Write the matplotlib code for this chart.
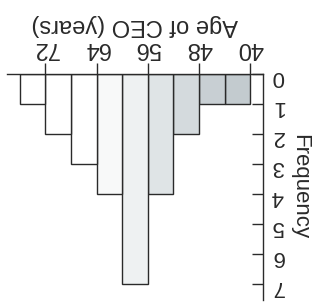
import matplotlib
matplotlib.use("Agg")
import matplotlib.pyplot as plt

plt.rcParams["font.family"] = ["Liberation Sans", "DejaVu Sans"]

# histogram of CEO ages (bin width 4 years)
bin_edges = [40, 44, 48, 52, 56, 60, 64, 68, 72]
counts = [1, 1, 2, 4, 7, 4, 3, 2, 1]
x_ticks = [40, 48, 56, 64, 72]
y_ticks = [0, 1, 2, 3, 4, 5, 6, 7]

# photo lighting makes the right-hand bars look grey
bar_colors = ["#c3cbcf", "#c8cfd3", "#d4dadd", "#dfe4e6",
              "#eef1f2", "#f8f9f9", "#ffffff", "#ffffff", "#ffffff"]

fig = plt.figure(figsize=(3.18, 3.04), dpi=100)
ax = fig.add_axes([0.022, 0.013, 0.805, 0.744])

ax.bar(bin_edges, counts, width=4, align="edge",
       color=bar_colors, edgecolor="#2a2a2a", linewidth=1.0)

# the picture is upside down: flip both axes
ax.set_xlim(78, 38)
ax.set_ylim(7.55, 0)

ax.spines["bottom"].set_visible(False)
ax.spines["left"].set_visible(False)
for s in ("top", "right"):
    ax.spines[s].set_color("#2a2a2a")
    ax.spines[s].set_linewidth(1.0)

ax.xaxis.tick_top()
ax.yaxis.tick_right()
ax.set_xticks(x_ticks)
ax.set_yticks(y_ticks)
ax.tick_params(axis="x", direction="out", length=8, width=1.0,
               colors="#2a2a2a", labelsize=17, pad=3)
ax.tick_params(axis="y", direction="in", length=8, width=1.0,
               colors="#2a2a2a", labelsize=16, pad=6)
for lab in ax.get_xticklabels() + ax.get_yticklabels():
    lab.set_rotation(180)
    lab.set_color("#2a2a2a")

ax.set_xlabel("Age of CEO (years)", fontsize=17, color="#2a2a2a",
              rotation=180, labelpad=4)
ax.xaxis.set_label_position("top")
ax.set_ylabel("Frequency", fontsize=16, color="#2a2a2a",
              rotation=270, labelpad=19)
ax.yaxis.set_label_position("right")
ax.set_facecolor("none")

fig.savefig("out.png", dpi=100)
